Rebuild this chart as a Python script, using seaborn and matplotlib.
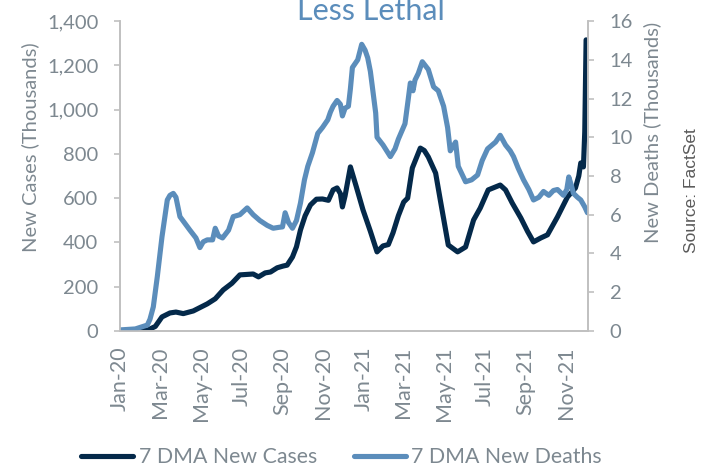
import matplotlib
matplotlib.use("Agg")
import matplotlib.pyplot as plt
import matplotlib.dates as mdates
import pandas as pd
import seaborn as sns

# 7 day moving averages, thousands
case_dates = [
    "2020-01-01", "2020-01-24", "2020-02-11", "2020-02-23", "2020-03-04", "2020-03-16",
    "2020-03-25", "2020-04-05", "2020-04-20", "2020-05-11", "2020-05-23", "2020-06-04",
    "2020-06-17", "2020-06-29", "2020-07-19", "2020-07-27", "2020-08-06", "2020-08-14",
    "2020-08-24", "2020-09-02", "2020-09-08", "2020-09-16", "2020-09-22", "2020-09-28",
    "2020-10-05", "2020-10-13", "2020-10-22", "2020-10-31", "2020-11-09", "2020-11-16",
    "2020-11-22", "2020-11-27", "2020-11-30", "2020-12-04", "2020-12-12", "2020-12-21",
    "2020-12-31", "2021-01-11", "2021-01-21", "2021-01-30", "2021-02-07", "2021-02-14",
    "2021-02-22", "2021-03-02", "2021-03-08", "2021-03-15", "2021-03-27", "2021-04-02",
    "2021-04-08", "2021-04-19", "2021-04-26", "2021-05-08", "2021-05-22", "2021-06-03",
    "2021-06-15", "2021-06-25", "2021-07-07", "2021-07-25", "2021-08-02", "2021-08-12",
    "2021-08-25", "2021-09-04", "2021-09-13", "2021-09-24", "2021-10-04", "2021-10-19",
    "2021-11-03", "2021-11-15", "2021-11-20", "2021-11-23", "2021-11-27", "2021-11-29",
    "2021-12-01",
]
new_cases = [
    0, 2, 3, 20, 63, 81,
    85, 78, 90, 122, 145, 185,
    215, 253, 257, 244, 262, 266,
    285, 293, 297, 334, 380, 456,
    520, 569, 595, 596, 590, 637,
    646, 620, 560, 610, 741, 650,
    546, 450, 357, 384, 390, 443,
    520, 582, 600, 736, 826, 815,
    786, 713, 592, 388, 357, 379,
    501, 555, 637, 659, 637, 578,
    510, 450, 402, 420, 434, 515,
    605, 646, 700, 759, 741, 900,
    1315,
]

death_dates = [
    "2020-01-01", "2020-01-24", "2020-02-11", "2020-02-15", "2020-02-20", "2020-02-26",
    "2020-03-04", "2020-03-12", "2020-03-16", "2020-03-21", "2020-03-25", "2020-03-31",
    "2020-04-15", "2020-04-24", "2020-04-30", "2020-05-05", "2020-05-11", "2020-05-19",
    "2020-05-23", "2020-05-28", "2020-06-03", "2020-06-12", "2020-06-19", "2020-06-29",
    "2020-07-10", "2020-07-19", "2020-07-29", "2020-08-09", "2020-08-18", "2020-08-27",
    "2020-09-01", "2020-09-05", "2020-09-10", "2020-09-16", "2020-09-22", "2020-09-28",
    "2020-10-04", "2020-10-09", "2020-10-16", "2020-10-24", "2020-10-31", "2020-11-08",
    "2020-11-12", "2020-11-16", "2020-11-22", "2020-11-27", "2020-11-30", "2020-12-04",
    "2020-12-09", "2020-12-12", "2020-12-15", "2020-12-23", "2020-12-29", "2021-01-03",
    "2021-01-07", "2021-01-11", "2021-01-14", "2021-01-19", "2021-01-21", "2021-01-30",
    "2021-02-10", "2021-02-17", "2021-02-22", "2021-02-27", "2021-03-04", "2021-03-09",
    "2021-03-12", "2021-03-16", "2021-03-19", "2021-03-24", "2021-03-30", "2021-04-08",
    "2021-04-16", "2021-04-23", "2021-05-01", "2021-05-07", "2021-05-11", "2021-05-19",
    "2021-05-23", "2021-06-03", "2021-06-12", "2021-06-21", "2021-06-28", "2021-07-06",
    "2021-07-18", "2021-07-25", "2021-08-02", "2021-08-09", "2021-08-14", "2021-08-21",
    "2021-08-29", "2021-09-06", "2021-09-13", "2021-09-21", "2021-09-28", "2021-10-06",
    "2021-10-13", "2021-10-19", "2021-10-28", "2021-11-02", "2021-11-05", "2021-11-09",
    "2021-11-12", "2021-11-18", "2021-11-23", "2021-11-29", "2021-12-03",
]
new_deaths = [
    0.05, 0.1, 0.3, 0.6, 1.24, 2.8,
    4.85, 6.76, 7.0, 7.1, 6.9, 5.9,
    5.2, 4.8, 4.3, 4.6, 4.7, 4.7,
    5.3, 4.9, 4.8, 5.2, 5.9, 6.0,
    6.35, 6.0, 5.7, 5.45, 5.3, 5.35,
    5.37, 6.1, 5.6, 5.3, 5.7, 6.6,
    7.8, 8.5, 9.2, 10.2, 10.5, 10.9,
    11.3, 11.6, 11.9, 11.7, 11.1, 11.5,
    11.6, 12.5, 13.6, 14.0, 14.8, 14.5,
    14.1, 13.4, 12.6, 11.25, 10.0, 9.6,
    9.0, 9.4, 9.9, 10.3, 10.7, 12.0,
    12.8, 12.4, 12.95, 13.3, 13.9, 13.5,
    12.6, 12.4, 11.6, 10.5, 9.3, 9.75,
    8.5, 7.7, 7.8, 8.05, 8.8, 9.4,
    9.75, 10.1, 9.6, 9.3, 9.0, 8.4,
    7.8, 7.3, 6.76, 6.9, 7.2, 7.0,
    7.25, 7.3, 7.0, 7.3, 7.95, 7.5,
    7.1, 6.9, 6.76, 6.4, 6.1,
]

cases = pd.DataFrame({"date": pd.to_datetime(case_dates), "value": new_cases})
deaths = pd.DataFrame({"date": pd.to_datetime(death_dates), "value": new_deaths})

navy = "#04294a"
steel = "#5b8dbb"
grey = "#7d8890"
spine_grey = "#c0c0c0"

sns.set_style("white")
plt.rcParams["font.family"] = ["Lato", "DejaVu Sans"]

fig = plt.figure(figsize=(7.06, 4.68), dpi=100)
ax = fig.add_axes([0.170, 0.293, 0.663, 0.662])
ax2 = ax.twinx()

sns.lineplot(data=cases, x="date", y="value", ax=ax, color=navy, linewidth=3.7,
             label="7 DMA New Cases", legend=False)
sns.lineplot(data=deaths, x="date", y="value", ax=ax2, color=steel, linewidth=3.7,
             label="7 DMA New Deaths", legend=False)

ax.set_xlim(pd.Timestamp("2020-01-01"), pd.Timestamp("2021-12-04"))
ax.set_ylim(0, 1400)
ax2.set_ylim(0, 16)
ax.set_yticks(range(0, 1401, 200))
ax.set_yticklabels([f"{v:,}" for v in range(0, 1401, 200)])
ax2.set_yticks(range(0, 17, 2))

ax.xaxis.set_major_locator(mdates.MonthLocator(bymonth=[1, 3, 5, 7, 9, 11]))
ax.xaxis.set_major_formatter(mdates.DateFormatter("%b-%y"))

ax.set_xlabel("")
ax.set_ylabel("New Cases (Thousands)", color=grey, fontsize=14.5)
ax2.set_ylabel("New Deaths (Thousands)", color=grey, fontsize=14.5)
ax.yaxis.set_label_coords(-0.173, 0.594)
ax2.yaxis.set_label_coords(1.118, 0.639)

for a in (ax, ax2):
    a.tick_params(axis="both", color=spine_grey, labelcolor=grey, length=4.5,
                  width=1.2, direction="out")
    a.tick_params(axis="y", labelsize=14.5, pad=11)
    for side in ("left", "right", "bottom"):
        a.spines[side].set_color(spine_grey)
        a.spines[side].set_linewidth(1.2)
    a.spines["top"].set_visible(False)
    a.grid(False)

ax.tick_params(axis="x", labelsize=15.5, pad=7, labelrotation=90)

# title sits partly above the canvas, as in the source chart
fig.text(0.526, 1 - 20 / 468, "Less Lethal", ha="center", va="baseline",
         fontsize=22, color=steel)
fig.text(692 / 706, 1 - 191 / 468, "Source: FactSet", rotation=90, ha="center",
         va="center", fontsize=12.5, color="#5a5a5a",
         family=["Liberation Sans", "DejaVu Sans"])

h1, l1 = ax.get_legend_handles_labels()
h2, l2 = ax2.get_legend_handles_labels()
fig.legend(h1 + h2, l1 + l2, loc="center", bbox_to_anchor=(0.484, 1 - 457 / 468),
           ncol=2, frameon=False, fontsize=15.3, handlelength=2.45,
           columnspacing=1.75, handletextpad=0.25, labelcolor=grey)

fig.savefig("out.png", dpi=100)
